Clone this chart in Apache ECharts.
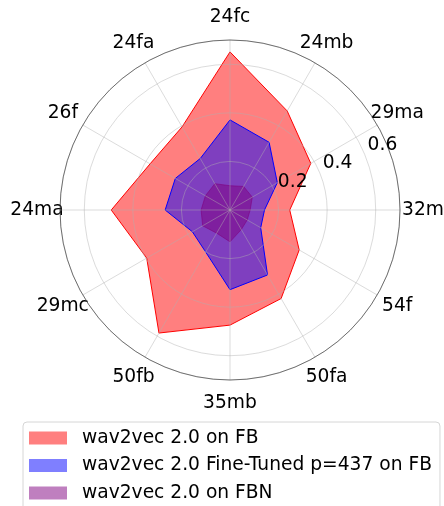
<!DOCTYPE html>
<html>
<head>
<meta charset="utf-8">
<script src="https://cdn.jsdelivr.net/npm/echarts@6/dist/echarts.min.js"></script>
<style>
html,body{margin:0;padding:0;background:#fff;}
#chart{width:444px;height:506px;}
</style>
</head>
<body>
<div id="chart"></div>
<script>
var categories = ['24fc','24mb','29ma','32m','54f','50fa','35mb','50fb','29mc','24ma','26f','24fa'];
var seriesNames = ['wav2vec 2.0 on FB', 'wav2vec 2.0 Fine-Tuned p=437 on FB', 'wav2vec 2.0 on FBN'];
var valuesFB = [0.651, 0.471, 0.384, 0.246, 0.329, 0.421, 0.474, 0.585, 0.396, 0.489, 0.38, 0.395];
var valuesFineTuned = [0.371, 0.322, 0.225, 0.142, 0.146, 0.309, 0.328, 0.20, 0.179, 0.267, 0.26, 0.245];
var valuesFBN = [0.10, 0.112, 0.106, 0.083, 0.082, 0.093, 0.131, 0.11, 0.13, 0.119, 0.117, 0.125];
var radialTicks = [0.2, 0.4, 0.6];
var rMax = 0.7;

var FONT = 'DejaVu Sans';
var FS = 18.67;
var step = 360 / categories.length;

function closedPolar(vals) {
  var pts = vals.map(function (v, i) { return [v, i * step]; });
  pts.push([vals[0], 360]);
  return pts;
}

var fills = ['rgba(255,0,0,0.5)', 'rgba(0,0,255,0.5)', 'rgba(128,0,128,0.5)'];
var strokes = ['rgba(255,0,0,1)', 'rgba(0,0,255,1)', 'rgba(128,0,128,0.6)'];
var allVals = [valuesFB, valuesFineTuned, valuesFBN];

var series = allVals.map(function (vals, k) {
  return {
    name: seriesNames[k],
    type: 'line',
    coordinateSystem: 'polar',
    polarIndex: 0,
    data: closedPolar(vals),
    symbol: 'none',
    z: 2 + k * 0.1,
    itemStyle: { color: fills[k] },
    lineStyle: { color: strokes[k], width: 1 },
    areaStyle: { color: fills[k], opacity: 1 },
    clip: false,
    animation: false
  };
});

var labelRadius = 0.795;
series.push({
  name: '__labels',
  type: 'scatter',
  coordinateSystem: 'polar',
  polarIndex: 0,
  data: categories.map(function (c, i) { return [labelRadius, i * step, c]; }),
  symbolSize: 0,
  clip: false,
  silent: true,
  animation: false,
  itemStyle: { opacity: 1 },
  label: {
    show: true,
    position: 'inside',
    formatter: function (p) { return p.data[2]; },
    color: '#000',
    opacity: 1,
    textBorderWidth: 0,
    fontFamily: FONT,
    fontSize: FS
  }
});

var chart = echarts.init(document.getElementById('chart'), null, { renderer: 'canvas' });
chart.setOption({
  animation: false,
  backgroundColor: '#fff',
  polar: [
    { center: [230, 210], radius: 170 },
    { center: [230, 210], radius: 170 }
  ],
  angleAxis: [
    {
      polarIndex: 0,
      type: 'value',
      min: 0, max: 360, interval: step,
      startAngle: 90,
      clockwise: true,
      z: 5,
      axisLine: { show: true, lineStyle: { color: 'rgba(0,0,0,0.5)', width: 1 } },
      axisTick: { show: false },
      axisLabel: { show: false },
      splitLine: { show: true, lineStyle: { color: 'rgba(176,176,176,0.45)', width: 1 } }
    },
    {
      polarIndex: 1,
      type: 'value',
      min: 0, max: 360,
      startAngle: 22.5,
      show: false
    }
  ],
  radiusAxis: [
    {
      polarIndex: 0,
      type: 'value',
      min: 0, max: rMax, interval: 0.2,
      z: 5,
      axisLine: { show: false },
      axisTick: { show: false },
      axisLabel: { show: false },
      splitLine: { show: true, lineStyle: { color: 'rgba(176,176,176,0.45)', width: 1 } }
    },
    {
      polarIndex: 1,
      type: 'value',
      min: 0, max: rMax, interval: 0.2,
      z: 6,
      axisLine: { show: false },
      axisTick: { show: false },
      splitLine: { show: false },
      axisLabel: {
        show: true,
        showMinLabel: false,
        showMaxLabel: false,
        margin: 0,
        align: 'left',
        verticalAlign: 'bottom',
        padding: [0, 0, 0, 3],
        color: '#000',
        fontFamily: FONT,
        fontSize: FS,
        formatter: function (v) {
          for (var i = 0; i < radialTicks.length; i++) {
            if (Math.abs(radialTicks[i] - v) < 1e-6) return radialTicks[i].toFixed(1);
          }
          return '';
        }
      }
    }
  ],
  legend: {
    data: seriesNames.map(function (n, k) {
      return { name: n, icon: 'rect', itemStyle: { color: fills[k], borderWidth: 0 } };
    }),
    orient: 'vertical',
    left: 23,
    top: 422,
    height: 120,
    padding: [6, 8, 30, 6],
    itemWidth: 38,
    itemHeight: 13,
    itemGap: 7.5,
    icon: 'rect',
    selectedMode: false,
    backgroundColor: '#fff',
    borderColor: '#d6d6d6',
    borderWidth: 1,
    borderRadius: 4,
    textStyle: {
      color: '#000',
      fontFamily: FONT,
      fontSize: FS,
      lineHeight: 20,
      padding: [0, 0, 0, 10]
    }
  },
  series: series
});
</script>
</body>
</html>
